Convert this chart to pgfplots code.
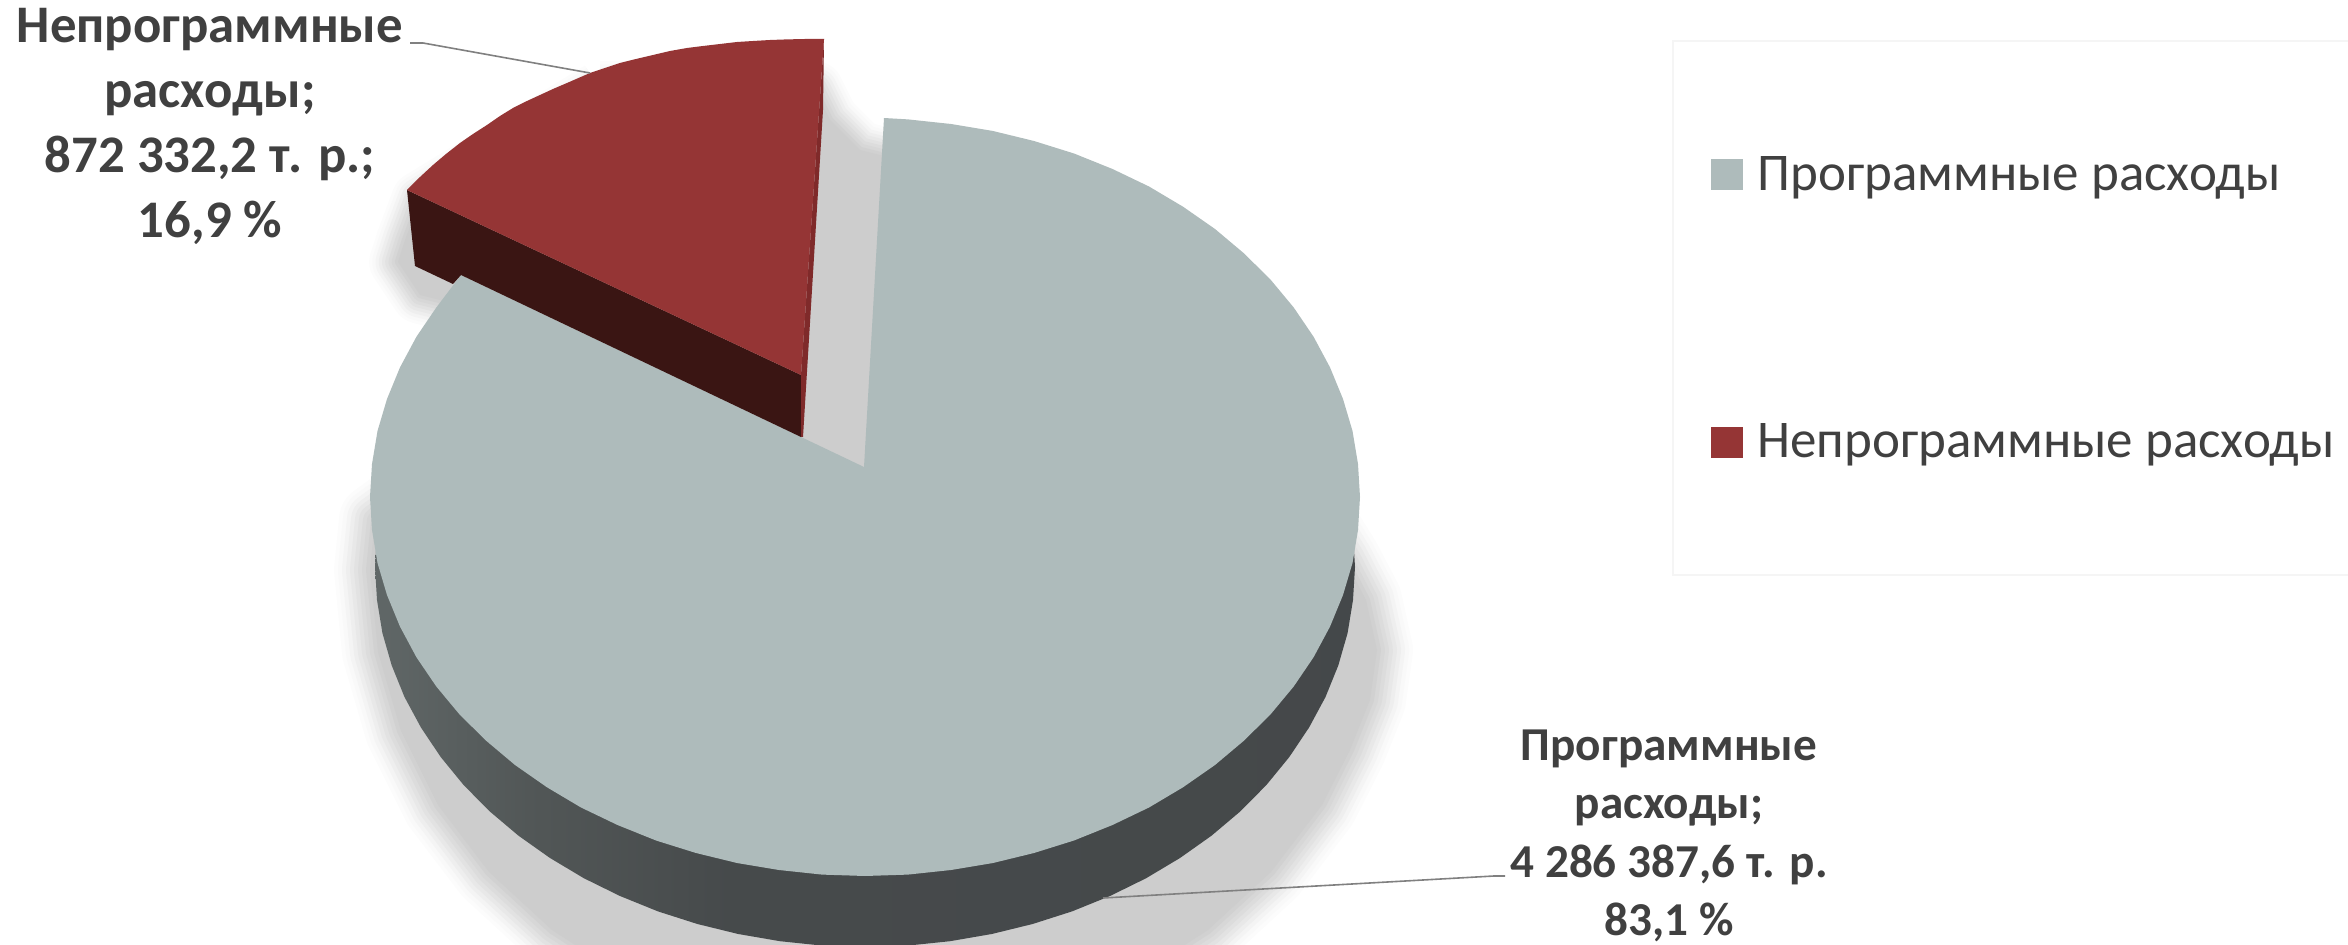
\documentclass[border=0pt]{standalone}
\usepackage{fontspec}
\setmainfont{Carlito}
\usepackage{pgfplots}
\usepackage{pgfplotstable}
\pgfplotsset{compat=1.18}

\definecolor{greytop}{HTML}{AEBBBB}
\definecolor{redtop}{HTML}{953535}
\definecolor{redside}{HTML}{3A1513}
\definecolor{redthin}{HTML}{7F2A2A}
\definecolor{shadowgrey}{HTML}{CDCDCD}
\definecolor{labeltext}{HTML}{404040}
\definecolor{leader}{HTML}{808080}

\pgfdeclarehorizontalshading{sideshade}{100bp}{
  rgb(0bp)=(.56,.60,.60);
  rgb(13bp)=(.45,.49,.48);
  rgb(23bp)=(.39,.42,.42);
  rgb(33bp)=(.32,.34,.34);
  rgb(43bp)=(.275,.29,.295);
  rgb(100bp)=(.263,.278,.286)}

% everything in pixels of the reference, y downwards
\pgfplotstableread{
x y
864 467
884 118
908 119.4
951 124
993 131
1034 141
1074 153.5
1112.5 169
1149 186.5
1183 206.7
1215 229
1244 253.4
1270.5 279.6
1293.7 307.5
1313.6 336.8
1330 367.4
1343 399
1352.5 431
1358 464
1360 497
1358 530
1352.5 563
1343 595
1330 626.6
1313.6 657.2
1293.7 686.5
1270.5 714.4
1244 740.6
1215 765
1183 787.3
1149 807.5
1112.5 825
1074 840.5
1034 853
993 863
951 870
908 874.6
865 876
822 874.6
779 870
737 863
696 853
656 840.5
617.5 825
581 807.5
547 787.3
515 765
486 740.6
459.5 714.4
436.3 686.5
416.4 657.2
400 626.6
387 595
377.5 563
372 530
370 497
372 464
377.5 431
387 399
400 367.4
416.4 336.8
436.3 307.5
461 275
}\greysector

\pgfplotstableread{
x y
1353 534
1355 567
1353 600
1347.6 633
1338.3 665.4
1325.5 697
1309 727.6
1289.3 757
1266.4 785
1240.4 811.3
1211.5 835.7
1180 858
1146 878.3
1110 896
1072 911.4
1032.6 924
991.8 934
950 941.2
907.7 945.6
865 947
822.3 945.6
780 941.2
738.2 934
697.4 924
658 911.4
620 896
584 878.3
550 858
518.5 835.7
489.6 811.3
463.6 785
440.7 757
421 727.6
404.5 697
391.7 665.4
382.4 633
377 600
375 567
377 534
}\greyside

\pgfplotstableread{
x y
801 375
407 190
420 177
433 165
446 154
460 143
473 134
487 125
500 116
513 108
527 101
540 95
553 89
567 83
590 73
605 68
620 63
636 59
653 55
670 51
687 48
703 46
720 44
737 42
753 41
770 40
787 39.4
805 39
824 39
}\redsector

\pgfplotstableread{
x y
407 190
415 266
453 284
461 275
801 437
801 375
}\redface

\pgfplotstableread{
x y
824 39
823 110
803 437
801 437
801 375
}\redstrip

\pgfplotstableread{
x y
430 480
1320 520
1345 560
1366 600
1377 650
1370 700
1350 750
1322 805
1271 872
1208 930
1135 977
1054 1012
969 1033
880 1040
791 1033
706 1012
625 977
552 930
489 872
438 805
401 731
378 652
370 570
375 520
430 480
}\pieshadow

\pgfplotstableread{
x y
600 90
815 90
830 120
860 150
900 160
900 490
780 490
440 300
420 295
398 262
405 240
420 200
600 90
}\redshadow

\newcommand{\softshadow}[2]{%
  \addplot[draw=shadowgrey!5!white,line width=#2*36pt,line join=round] table {#1};
  \addplot[draw=shadowgrey!12!white,line width=#2*32pt,line join=round] table {#1};
  \addplot[draw=shadowgrey!22!white,line width=#2*28pt,line join=round] table {#1};
  \addplot[draw=shadowgrey!34!white,line width=#2*24pt,line join=round] table {#1};
  \addplot[draw=shadowgrey!46!white,line width=#2*20pt,line join=round] table {#1};
  \addplot[draw=shadowgrey!58!white,line width=#2*16pt,line join=round] table {#1};
  \addplot[draw=shadowgrey!70!white,line width=#2*12pt,line join=round] table {#1};
  \addplot[draw=shadowgrey!81!white,line width=#2*8pt,line join=round] table {#1};
  \addplot[draw=shadowgrey!91!white,line width=#2*4pt,line join=round] table {#1};
  \addplot[fill=shadowgrey,draw=none] table {#1};
}

\begin{document}
\begin{tikzpicture}
\useasboundingbox (0,0) rectangle (1174pt,472.5pt);
\begin{axis}[
    scale only axis,
    width=1174pt,
    height=472.5pt,
    xmin=0, xmax=2348,
    ymin=0, ymax=945,
    y dir=reverse,
    hide axis,
    no markers,
    every axis plot/.append style={forget plot},
    legend cell align=left,
    legend style={
        draw=none, fill=none, inner sep=0pt, outer sep=0pt,
        at={(axis description cs:0.7285,0.8349)},
        anchor=north west,
        font=\fontsize{26.5}{29}\selectfont,
        text=labeltext,
        row sep=115.3pt,
        nodes={inner sep=0pt},
        /tikz/column 1/.style={column sep=7.5pt},
    },
    legend image code/.code={
        \fill[#1] (0pt,-7.5pt) rectangle (15.5pt,7.5pt);
    },
]
% legend frame
\addplot[draw=black!4,line width=.6pt] coordinates {(2360,41) (1673,41) (1673,575) (2360,575)};

\softshadow{\pieshadow}{1}
\softshadow{\redshadow}{.8}

\addplot[shade,shading=sideshade,draw=none] table {\greyside};
\addplot[fill=greytop,draw=none] table {\greysector};

\addplot[fill=redside,draw=none] table {\redface};
\addplot[fill=redthin,draw=none] table {\redstrip};
\addplot[fill=redtop,draw=none] table {\redsector};

% leaders
\addplot[draw=leader,line width=.8pt] coordinates {(410,43) (423,43) (590,73)};
\addplot[draw=leader,line width=.8pt] coordinates {(1505,876) (1494,876) (1103,898)};

% legend
\addlegendimage{greytop}
\addlegendentry{Программные расходы}
\addlegendimage{redtop}
\addlegendentry{Непрограммные расходы}

% data labels
\tikzset{lab/.style={anchor=base,text=labeltext,inner sep=0pt,font=\bfseries\fontsize{26.4}{28}\selectfont},
         labr/.style={lab,font=\bfseries\fontsize{23.6}{26}\selectfont}}
\node[lab] at (axis cs:210,43) {Непрограммные};
\node[lab] at (axis cs:210,108) {расходы;};
\node[lab] at (axis cs:210,173) {872 332,2 т. р.;};
\node[lab] at (axis cs:210,238) {16,9 \%};
\node[labr] at (axis cs:1669,760) {Программные};
\node[labr] at (axis cs:1669,818) {расходы;};
\node[labr] at (axis cs:1669,877) {4 286 387,6 т. р.};
\node[labr] at (axis cs:1669,935) {83,1 \%};
\end{axis}
\end{tikzpicture}
\end{document}
